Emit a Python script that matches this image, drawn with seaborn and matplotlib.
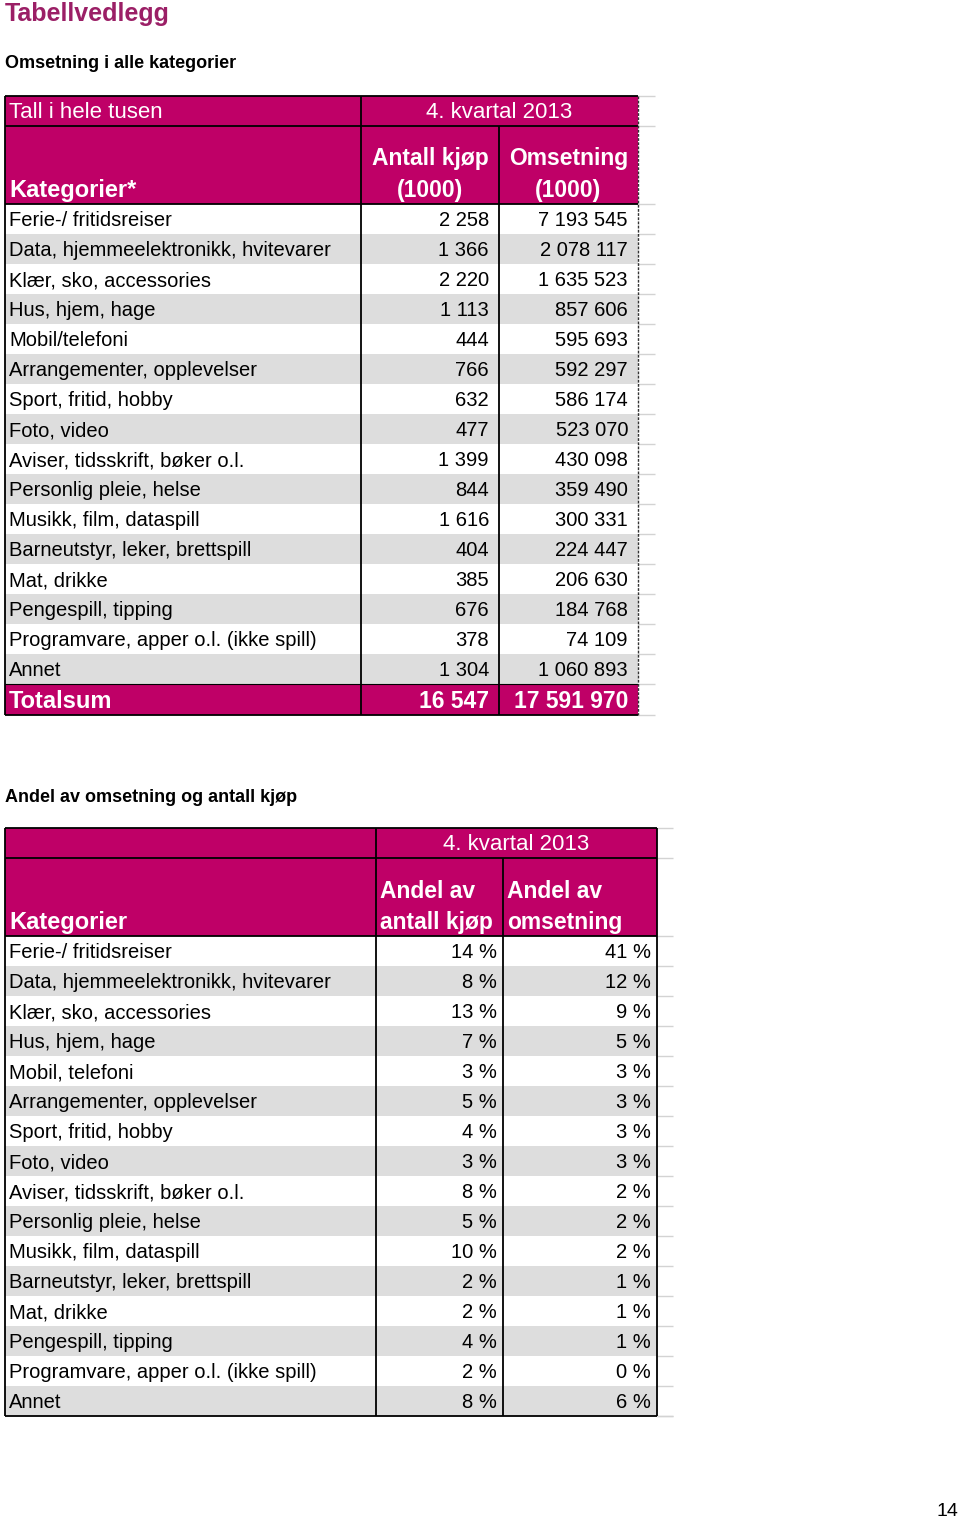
import numpy as np
import pandas as pd
import matplotlib.pyplot as plt
from matplotlib.colors import ListedColormap
from matplotlib.patches import Rectangle
import seaborn as sns

# data
kategorier1 = ["Ferie-/ fritidsreiser", "Data, hjemmeelektronikk, hvitevarer",
               "Klær, sko, accessories", "Hus, hjem, hage", "Mobil/telefoni",
               "Arrangementer, opplevelser", "Sport, fritid, hobby", "Foto, video",
               "Aviser, tidsskrift, bøker o.l.", "Personlig pleie, helse",
               "Musikk, film, dataspill", "Barneutstyr, leker, brettspill",
               "Mat, drikke", "Pengespill, tipping", "Programvare, apper o.l. (ikke spill)",
               "Annet"]
antall_kjop = [2258, 1366, 2220, 1113, 444, 766, 632, 477, 1399, 844, 1616, 404,
               385, 676, 378, 1304]
omsetning = [7193545, 2078117, 1635523, 857606, 595693, 592297, 586174, 523070,
             430098, 359490, 300331, 224447, 206630, 184768, 74109, 1060893]
total_kjop = 16547
total_omsetning = 17591970

kategorier2 = [k if k != "Mobil/telefoni" else "Mobil, telefoni" for k in kategorier1]
andel_kjop = [14, 8, 13, 7, 3, 5, 4, 3, 8, 5, 10, 2, 2, 4, 2, 8]
andel_oms = [41, 12, 9, 5, 3, 3, 3, 3, 2, 2, 2, 1, 1, 1, 0, 6]

MAG = "#BF0067"
GRAY = "#DDDDDD"
TITLE = "#9B1F66"

sns.set_theme(style="white")
plt.rcParams["font.family"] = ["Liberation Sans", "DejaVu Sans"]

W, H = 960, 1519
fig = plt.figure(figsize=(W / 100, H / 100), dpi=100)
DY = 2  # nudge text down a touch (va=center counts descenders)


def px_axes(x0, y0, x1, y1):
    return fig.add_axes([x0 / W, 1 - y1 / H, (x1 - x0) / W, (y1 - y0) / H])


def fmt(v):
    return f"{v:,}".replace(",", " ")


def band(kat, x, top):
    # grey/white striping of the body rows via a one-column heatmap
    y_body = top + 30 + 78
    df = pd.DataFrame({"band": np.arange(len(kat)) % 2}, index=kat)
    hax = px_axes(x[0], y_body, x[3], y_body + 30 * len(kat))
    sns.heatmap(df, ax=hax, cmap=ListedColormap(["white", GRAY]), vmin=0, vmax=1,
                cbar=False, xticklabels=False, yticklabels=False)
    hax.set_axis_off()


x1 = [5, 361, 499, 638]
x2 = [5, 376, 503, 657]
top1, top2 = 96, 828
band(kategorier1, x1, top1)
band(kategorier2, x2, top2)

ax = fig.add_axes([0, 0, 1, 1])
ax.set_xlim(0, W)
ax.set_ylim(H, 0)
ax.axis("off")
ax.patch.set_alpha(0)


def hline(xa, xb, y, **kw):
    ax.plot([xa, xb], [y, y], solid_capstyle="butt", **kw)


def vline(x, ya, yb, **kw):
    ax.plot([x, x], [ya, yb], solid_capstyle="butt", **kw)


def draw_table(kat, cols, x, top, ext, head_left, head_cols, centered, pad,
               total=None, dashed=False):
    y_h1 = top + 30
    y_body = y_h1 + 78
    n = len(kat)
    y_end = y_body + 30 * n
    y_bot = y_end + (31 if total else 0)
    width = x[3] - x[0]

    ax.add_patch(Rectangle((x[0], top), width, y_body - top, color=MAG, lw=0))
    if total:
        ax.add_patch(Rectangle((x[0], y_end), width, 31, color=MAG, lw=0))

    # header
    ax.text(x[0] + 4, top + 15 + DY, head_left, color="white", fontsize=16, va="center")
    ax.text((x[1] + x[3]) / 2, top + 15 + DY, "4. kvartal 2013", color="white",
            fontsize=16, va="center", ha="center")
    ax.text(x[0] + 4, y_body - 16 + DY, head_cols[0], color="white", fontsize=17,
            fontweight="bold", va="center")
    for j, (l1, l2) in enumerate(head_cols[1:]):
        if centered:
            xx, ha = (x[j + 1] + x[j + 2]) / 2, "center"
        else:
            xx, ha = x[j + 1] + 4, "left"
        ax.text(xx, y_body - 47 + DY, l1, color="white", fontsize=16.5,
                fontweight="bold", va="center", ha=ha)
        ax.text(xx, y_body - 16 + DY, l2, color="white", fontsize=16.5,
                fontweight="bold", va="center", ha=ha)

    # body
    for i, k in enumerate(kat):
        yc = y_body + 30 * i + 15 + DY
        ax.text(x[0] + 4, yc, k, fontsize=14.5, va="center", color="black")
        for j, col in enumerate(cols):
            ax.text(x[j + 2] - pad, yc, col[i], fontsize=14.5, va="center",
                    ha="right", color="black")

    if total:
        yc = y_end + 15.5 + DY
        ax.text(x[0] + 4, yc, total[0], fontsize=17, fontweight="bold",
                color="white", va="center")
        for j, t in enumerate(total[1:]):
            ax.text(x[j + 2] - pad, yc, t, fontsize=16.5, fontweight="bold",
                    color="white", va="center", ha="right")

    # faint grid stubs to the right
    for y in [top, y_h1, y_body] + [y_body + 30 * i for i in range(1, n + 1)] + [y_bot]:
        hline(x[3], x[3] + ext, y, color="#D3D3D3", lw=1)

    # borders
    k = dict(color="black", lw=1.3)
    for y in [top, y_h1, y_body, y_bot]:
        hline(x[0], x[3], y, **k)
    if total:
        hline(x[0], x[3], y_end, color="black", lw=0.8)
    vline(x[0], top, y_bot, **k)
    vline(x[1], top, y_bot, **k)
    vline(x[2], y_h1, y_bot, **k)
    if dashed:
        vline(x[3], top, y_bot, color="#333333", lw=1, ls=(0, (2, 1)))
    else:
        vline(x[3], top, y_bot, **k)


draw_table(kategorier1, [[fmt(v) for v in antall_kjop], [fmt(v) for v in omsetning]],
           x1, top1, 17, "Tall i hele tusen",
           ["Kategorier*", ("Antall kjøp", "(1000)"), ("Omsetning", "(1000)")],
           True, 10, total=["Totalsum", fmt(total_kjop), fmt(total_omsetning)],
           dashed=True)

draw_table(kategorier2, [[f"{v} %" for v in andel_kjop], [f"{v} %" for v in andel_oms]],
           x2, top2, 16, "",
           ["Kategorier", ("Andel av", "antall kjøp"), ("Andel av", "omsetning")],
           False, 6)

ax.text(5, 14, "Tabellvedlegg", fontsize=18, fontweight="bold", color=TITLE,
        va="center")
ax.text(5, 64, "Omsetning i alle kategorier", fontsize=13, fontweight="bold",
        va="center", color="black")
ax.text(5, 797, "Andel av omsetning og antall kjøp", fontsize=13, fontweight="bold",
        va="center", color="black")
ax.text(958, 1511, "14", fontsize=14, va="center", ha="right", color="black")

fig.savefig("out.png", dpi=100)
